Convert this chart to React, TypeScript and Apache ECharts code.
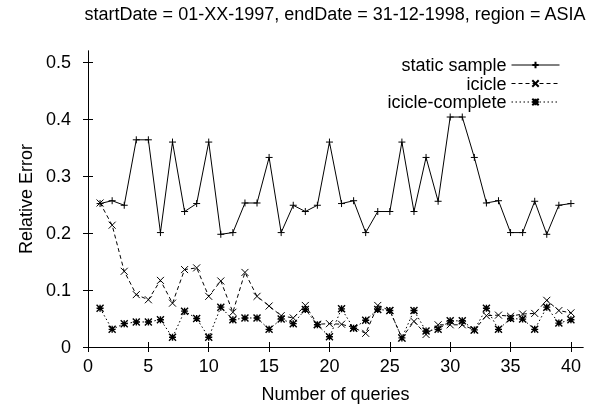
import { useEffect, useRef } from 'react';
import * as echarts from 'echarts';

const queries = [1, 2, 3, 4, 5, 6, 7, 8, 9, 10, 11, 12, 13, 14, 15, 16, 17, 18, 19, 20, 21, 22, 23, 24, 25, 26, 27, 28, 29, 30, 31, 32, 33, 34, 35, 36, 37, 38, 39, 40];

const staticSample = [0.252, 0.257, 0.249, 0.364, 0.364, 0.201, 0.360, 0.238, 0.252, 0.360, 0.198, 0.201, 0.253, 0.253, 0.333, 0.201, 0.249, 0.238, 0.249, 0.360, 0.252, 0.257, 0.201, 0.238, 0.238, 0.360, 0.238, 0.333, 0.256, 0.404, 0.404, 0.333, 0.253, 0.257, 0.201, 0.201, 0.256, 0.198, 0.249, 0.252];

const icicle = [0.253, 0.214, 0.133, 0.092, 0.083, 0.117, 0.077, 0.136, 0.139, 0.089, 0.116, 0.061, 0.131, 0.089, 0.072, 0.055, 0.051, 0.073, 0.040, 0.041, 0.040, 0.034, 0.024, 0.073, 0.064, 0.016, 0.045, 0.022, 0.039, 0.039, 0.039, 0.030, 0.055, 0.056, 0.054, 0.058, 0.059, 0.082, 0.064, 0.060];

const icicleComplete = [0.068, 0.031, 0.041, 0.044, 0.044, 0.048, 0.017, 0.063, 0.050, 0.017, 0.070, 0.048, 0.051, 0.051, 0.031, 0.049, 0.041, 0.066, 0.039, 0.018, 0.067, 0.033, 0.047, 0.066, 0.064, 0.016, 0.064, 0.028, 0.031, 0.046, 0.046, 0.030, 0.068, 0.031, 0.050, 0.049, 0.031, 0.070, 0.042, 0.048];

const xTickValues = [0, 5, 10, 15, 20, 25, 30, 35, 40];
const yTickValues = [0, 0.1, 0.2, 0.3, 0.4, 0.5];

const seriesNames = ['static sample', 'icicle', 'icicle-complete'];
const titleText = 'startDate = 01-XX-1997, endDate = 31-12-1998, region = ASIA';
const xName = 'Number of queries';
const yName = 'Relative Error';

const FONT = '"Liberation Sans", Arial, Helvetica, sans-serif';
const PLUS = 'path://M0,5L10,5M5,0L5,10';
const CROSS = 'path://M0,0L10,10M10,0L0,10';
const STAR = 'path://M0,5L10,5M5,0L5,10M0,0L10,10M10,0L0,10';

function zip(xs: number[], ys: number[]) {
  return xs.map((x, i) => [x, ys[i]]);
}

export default function App() {
  const ref = useRef<HTMLDivElement>(null);
  useEffect(() => {
    const chart = echarts.init(ref.current!, null, { renderer: 'svg', width: 591, height: 408 });
    const axisLine = { show: true, lineStyle: { color: '#000', width: 1 } };
    const xTick = { show: true, inside: false, length: 5, customValues: xTickValues, lineStyle: { color: '#000', width: 1 } };
    const yTick = { show: true, inside: false, length: 5, customValues: yTickValues, lineStyle: { color: '#000', width: 1 } };
    const yFmt = (v: number) => (v === 0 ? '0' : v.toFixed(1));
    const mkSeries = (name: string, ys: number[], symbol: string, type: any, bw: number) => ({
      type: 'line',
      name,
      data: zip(queries, ys),
      symbol,
      symbolSize: 7,
      showSymbol: true,
      silent: true,
      emphasis: { disabled: true },
      lineStyle: { color: '#000', width: 1, type },
      itemStyle: { color: '#000', borderColor: '#000', borderWidth: bw },
    });
    const legendBase = {
      orient: 'vertical',
      align: 'right',
      right: 31,
      itemWidth: 48,
      itemHeight: 8,
      padding: 0,
      selectedMode: false,
      lineStyle: { width: 1 },
      textStyle: { fontSize: 18, lineHeight: 18, color: '#000', fontFamily: FONT },
    };
    chart.setOption({
      animation: false,
      textStyle: { fontFamily: FONT },
      grid: { left: 88, top: 51, right: 8, bottom: 60, containLabel: false },
      graphic: [
        {
          type: 'text',
          x: 335,
          y: 14,
          style: { text: titleText, fontSize: 18, fontFamily: FONT, fill: '#000', textAlign: 'center', textVerticalAlign: 'middle' },
        },
      ],
      legend: [
        { ...legendBase, data: [seriesNames[0]], top: 56 },
        { ...legendBase, data: [seriesNames[1]], top: 74.5 },
        { ...legendBase, data: [seriesNames[2]], top: 93 },
      ],
      xAxis: [
        {
          type: 'value', min: 0, max: 41, interval: 1, position: 'bottom',
          axisLine, axisTick: xTick, splitLine: { show: false },
          axisLabel: { fontSize: 18, color: '#000', margin: 10, customValues: xTickValues, fontFamily: FONT },
          name: xName, nameLocation: 'middle', nameGap: 38,
          nameTextStyle: { fontSize: 18, color: '#000', fontFamily: FONT },
        },
        {
          type: 'value', min: 0, max: 41, interval: 1, position: 'top',
          axisLine, axisTick: xTick, splitLine: { show: false }, axisLabel: { show: false },
        },
      ],
      yAxis: [
        {
          type: 'value', min: 0, max: 0.52, interval: 0.1, position: 'left',
          axisLine, axisTick: yTick, splitLine: { show: false },
          axisLabel: { fontSize: 18, color: '#000', margin: 17, customValues: yTickValues, formatter: yFmt, fontFamily: FONT },
          name: yName, nameLocation: 'middle', nameGap: 52, nameRotate: 90,
          nameTextStyle: { fontSize: 18, color: '#000', fontFamily: FONT },
        },
        {
          type: 'value', min: 0, max: 0.52, interval: 0.1, position: 'right',
          axisLine, axisTick: yTick, splitLine: { show: false }, axisLabel: { show: false },
        },
      ],
      series: [
        mkSeries(seriesNames[0], staticSample, PLUS, 'solid', 1),
        mkSeries(seriesNames[1], icicle, CROSS, [4, 3], 1),
        mkSeries(seriesNames[2], icicleComplete, STAR, [1.5, 2.5], 1.4),
      ],
    });
    return () => chart.dispose();
  }, []);
  return <div ref={ref} style={{ position: 'fixed', left: 0, top: 0, width: 591, height: 408 }} />;
}
